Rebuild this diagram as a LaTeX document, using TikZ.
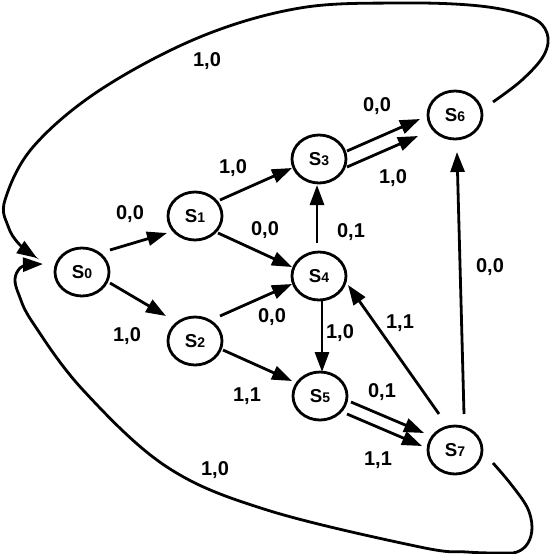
\documentclass[tikz,border=0pt]{standalone}
\usepackage{fontspec}
\setmainfont{Liberation Sans}
\usetikzlibrary{arrows.meta,calc,shapes.geometric}
\begin{document}
\begin{tikzpicture}[x=0.75pt,y=-0.75pt,
  state/.style={draw, line width=2.1pt, ellipse, minimum width=40.5pt, minimum height=36pt, inner sep=0pt,
    font=\fontsize{14pt}{16pt}\selectfont\bfseries},
  edge/.style={line width=2.1pt, -{Triangle[length=15pt,width=10.5pt]}},
  lab/.style={font=\fontsize{15pt}{17pt}\selectfont\bfseries, inner sep=0pt}]
\newcommand{\st}[1]{S\raisebox{-0.5pt}{\fontsize{10.5pt}{11pt}\selectfont #1}}
\fill[white] (0,0) rectangle (550,554);
\useasboundingbox (0,0) rectangle (550,554);
% states
\node[state] (S0) at (82,272) {\st{0}};
\node[state] (S1) at (195,216) {\st{1}};
\node[state] (S2) at (195,341) {\st{2}};
\node[state] (S3) at (319,159) {\st{3}};
\node[state] (S4) at (319,276) {\st{4}};
\node[state] (S5) at (320,396) {\st{5}};
\node[state] (S6) at (455,115) {\st{6}};
\node[state] (S7) at (455,450) {\st{7}};
% straight transitions
\draw[edge] ($(S0)+(28,-22)$) -- ($(S1)+(-28,17)$);
\draw[edge] ($(S1)+(25,-16)$) -- ($(S3)+(-27,9)$);
\draw[edge] ($(S1)+(23,17)$) -- ($(S4)+(-27,-9)$);
\draw[edge] ($(S4)+(-2,-33)$) -- ($(S3)+(-2,26)$);
\draw[edge] ($(S0)+(28,11)$) -- ($(S2)+(-29,-25)$);
\draw[edge] ($(S2)+(25,-25)$) -- ($(S4)+(-27,8)$);
\draw[edge] ($(S2)+(28,9)$) -- ($(S5)+(-28,-15)$);
\draw[edge] ($(S4)+(3,24)$) -- ($(S5)+(2,-24)$);
\draw[edge] ($(S7)+(-16,-36)$) -- ($(S4)+(29,9)$);
\draw[edge] ($(S7)+(9,-36)$) -- ($(S6)+(2,37)$);
\draw[edge] ($(S3)+(28,-8)$) -- ($(S6)+(-35,4)$);
\draw[edge] ($(S3)+(28,8)$) -- ($(S6)+(-37,21)$);
\draw[edge] ($(S5)+(31,6)$) -- ($(S7)+(-31,-17)$);
\draw[edge] ($(S5)+(27,18)$) -- ($(S7)+(-33,-4)$);
% long curved transitions
\coordinate (t0) at ($(S6)+(38,-13)$);
\coordinate (t1) at ($(S0)+(-45,-14)$);
\draw[edge] plot[smooth, tension=0.6] coordinates {(t0) (522,80) (544,55) (547,33) (530,17) (480,6) (400,3) (300,8) (200,37) (100,90) (33,147) (5,200) (8,226) (19,244) (t1)};
\coordinate (b0) at ($(S7)+(38,13)$);
\coordinate (b1) at ($(S0)+(-39,-8)$);
\draw[edge] plot[smooth, tension=0.6] coordinates {(b0) (510,483) (527,507) (532,527) (528,543) (517,552) (500,553) (467,552) (420,547) (267,510) (167,467) (83,390) (33,323) (19,295) (15,279) (20,268) (28,265) (b1)};
% labels
\node[lab] (l01) at (130,214) {0,0};
\node[lab] (l13) at (233,168) {1,0};
\node[lab] (l14) at (265,230) {0,0};
\node[lab] (l43) at (351,232) {0,1};
\node[lab] (l36a) at (377,106) {0,0};
\node[lab] (l36b) at (393,178) {1,0};
\node[lab] (l76) at (490,267) {0,0};
\node[lab] (l02) at (127,336) {1,0};
\node[lab] (l24) at (272,317) {0,0};
\node[lab] (l45) at (340,333) {1,0};
\node[lab] (l74) at (400,323) {1,1};
\node[lab] (l25) at (247,396) {1,1};
\node[lab] (l57a) at (382,392) {0,1};
\node[lab] (l57b) at (378,460) {1,1};
\node[lab] (l60) at (207,61) {1,0};
\node[lab] (l70) at (215,470) {1,0};
\end{tikzpicture}
\end{document}
